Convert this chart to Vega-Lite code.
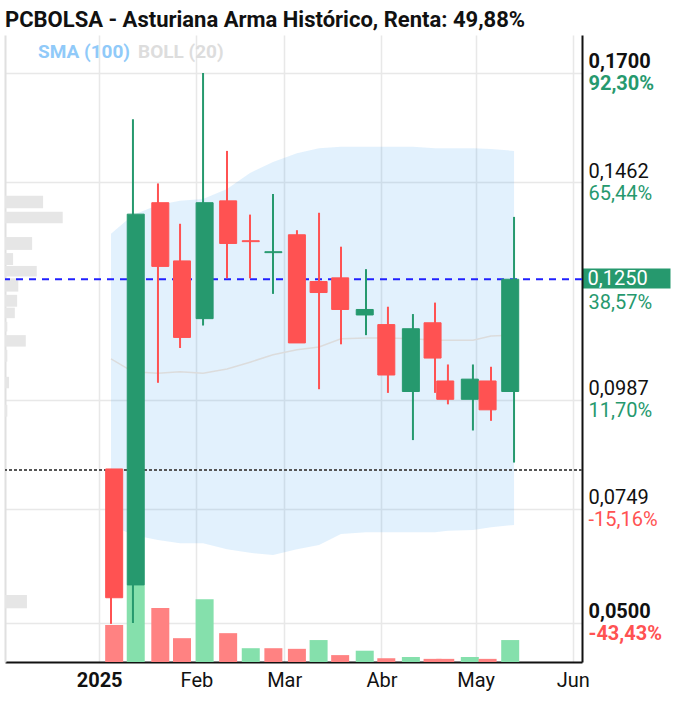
{
  "$schema": "https://vega.github.io/schema/vega-lite/v6.json",
  "width": 577,
  "height": 627,
  "autosize": {"type": "none"},
  "padding": {"left": 5, "top": 35, "right": 99, "bottom": 39},
  "background": "white",
  "config": {"font": "Roboto", "view": {"stroke": null}},
  "title": {
    "text": "PCBOLSA - Asturiana Arma Histórico, Renta: 49,88%",
    "anchor": "start",
    "frame": "group",
    "fontSize": 22,
    "fontWeight": "bold",
    "color": "#111111",
    "offset": 3
  },
  "datasets": {
    "ohlc": [
      {"d":"2025-01-05T19:00","o":0.0836,"h":0.0836,"l":0.0498,"c":0.0555,"v":59,"chg":"down","bu":0.1349,"bm":0.1076,"bl":0.0714},
      {"d":"2025-01-12T16:00","o":0.0583,"h":0.1599,"l":0.0500,"c":0.1392,"v":123,"chg":"up","bu":0.1390,"bm":0.1048,"bl":0.0692},
      {"d":"2025-01-20T12:00","o":0.1417,"h":0.1459,"l":0.1024,"c":0.1278,"v":86,"chg":"down","bu":0.1412,"bm":0.1045,"bl":0.0681},
      {"d":"2025-01-27T10:00","o":0.1290,"h":0.1371,"l":0.1100,"c":0.1123,"v":38,"chg":"down","bu":0.1421,"bm":0.1048,"bl":0.0674},
      {"d":"2025-02-03T15:00","o":0.1164,"h":0.1700,"l":0.1149,"c":0.1417,"v":100,"chg":"up","bu":0.1425,"bm":0.1045,"bl":0.0674},
      {"d":"2025-02-11T03:00","o":0.1421,"h":0.1530,"l":0.1252,"c":0.1328,"v":46,"chg":"down","bu":0.1447,"bm":0.1054,"bl":0.0661},
      {"d":"2025-02-18T08:00","o":0.1334,"h":0.1391,"l":0.1252,"c":0.1332,"v":22,"chg":"up","bu":0.1482,"bm":0.1069,"bl":0.0653},
      {"d":"2025-02-25T13:00","o":0.1308,"h":0.1436,"l":0.1218,"c":0.1310,"v":22,"chg":"down","bu":0.1506,"bm":0.1085,"bl":0.0648},
      {"d":"2025-03-05T01:00","o":0.1347,"h":0.1357,"l":0.1111,"c":0.1111,"v":21,"chg":"down","bu":0.1525,"bm":0.1096,"bl":0.0661},
      {"d":"2025-03-11T23:00","o":0.1245,"h":0.1395,"l":0.1010,"c":0.1221,"v":35,"chg":"up","bu":0.1536,"bm":0.1102,"bl":0.0670},
      {"d":"2025-03-18T20:00","o":0.1253,"h":0.1321,"l":0.1108,"c":0.1184,"v":11,"chg":"down","bu":0.1539,"bm":0.1120,"bl":0.0694},
      {"d":"2025-03-26T16:00","o":0.1172,"h":0.1272,"l":0.1128,"c":0.1184,"v":18,"chg":"up","bu":0.1539,"bm":0.1122,"bl":0.0698},
      {"d":"2025-04-02T13:00","o":0.1151,"h":0.1190,"l":0.1002,"c":0.1041,"v":6,"chg":"down","bu":0.1539,"bm":0.1122,"bl":0.0698},
      {"d":"2025-04-10T09:00","o":0.1005,"h":0.1174,"l":0.0899,"c":0.1142,"v":8,"chg":"up","bu":0.1539,"bm":0.1120,"bl":0.0698},
      {"d":"2025-04-17T07:00","o":0.1155,"h":0.1199,"l":0.1002,"c":0.1078,"v":5,"chg":"down","bu":0.1536,"bm":0.1117,"bl":0.0698},
      {"d":"2025-04-21T08:00","o":0.1028,"h":0.1064,"l":0.0977,"c":0.0988,"v":5,"chg":"down","bu":0.1536,"bm":0.1117,"bl":0.0701},
      {"d":"2025-04-29T04:00","o":0.0988,"h":0.1064,"l":0.0920,"c":0.1032,"v":8,"chg":"up","bu":0.1536,"bm":0.1117,"bl":0.0703},
      {"d":"2025-05-04T20:00","o":0.1028,"h":0.1059,"l":0.0941,"c":0.0965,"v":5,"chg":"down","bu":0.1534,"bm":0.1126,"bl":0.0709},
      {"d":"2025-05-12T01:00","o":0.1005,"h":0.1386,"l":0.0850,"c":0.1250,"v":35,"chg":"up","bu":0.1530,"bm":0.1128,"bl":0.0714}
    ],
    "profile": [
      {"lo":0.1405,"hi":0.1432,"pv":66},
      {"lo":0.1372,"hi":0.1397,"pv":100},
      {"lo":0.1314,"hi":0.1342,"pv":47},
      {"lo":0.1281,"hi":0.1307,"pv":14},
      {"lo":0.1256,"hi":0.1279,"pv":55},
      {"lo":0.1223,"hi":0.1252,"pv":23},
      {"lo":0.1190,"hi":0.1216,"pv":21},
      {"lo":0.1165,"hi":0.1188,"pv":17},
      {"lo":0.1136,"hi":0.1157,"pv":4},
      {"lo":0.1103,"hi":0.1128,"pv":36},
      {"lo":0.1070,"hi":0.1096,"pv":4},
      {"lo":0.1012,"hi":0.1037,"pv":7},
      {"lo":0.0950,"hi":0.0976,"pv":4},
      {"lo":0.0532,"hi":0.0561,"pv":38}
    ],
    "refs": [
      {"level": 0.125, "kind": "last"},
      {"level": 0.0834, "kind": "cost"}
    ]
  },
  "layer": [
    {
      "data": {"name": "profile"},
      "mark": {"type": "rect", "color": "#e6e6e6"},
      "encoding": {
        "x": {"field": "pv", "type": "quantitative", "scale": {"domain": [0, 1000]}, "axis": null},
        "x2": {"datum": 0},
        "y": {"field": "hi", "type": "quantitative", "scale": {"domain": [0.04148, 0.17829], "nice": false, "zero": false},
              "axis": {"orient": "left", "title": null, "labels": false, "ticks": false, "grid": false, "domain": true, "domainColor": "#e0e0e0", "domainWidth": 2}},
        "y2": {"field": "lo"}
      }
    },
    {
      "data": {"name": "ohlc"},
      "mark": {"type": "bar", "size": 18},
      "encoding": {
        "x": {"field": "d", "type": "temporal", "scale": {"domain": [{"year": 2024, "month": 12, "date": 3, "hours": 14}, {"year": 2025, "month": 6, "date": 2, "hours": 8}]}, "axis": null},
        "y": {"field": "v", "type": "quantitative", "scale": {"domain": [0, 1000]}, "axis": null},
        "color": {"condition": {"test": "datum.chg == 'up'", "value": "#85e0ac"}, "value": "#ff8282"}
      }
    },
    {
      "data": {"name": "ohlc"},
      "mark": {"type": "area", "color": "#2196f3", "opacity": 0.13},
      "encoding": {
        "x": {"field": "d", "type": "temporal", "scale": {"domain": [{"year": 2024, "month": 12, "date": 3, "hours": 14}, {"year": 2025, "month": 6, "date": 2, "hours": 8}]}, "axis": null},
        "y": {"field": "bu", "type": "quantitative", "scale": {"domain": [0.04148, 0.17829], "nice": false, "zero": false}, "axis": null},
        "y2": {"field": "bl"}
      }
    },
    {
      "data": {"name": "ohlc"},
      "mark": {"type": "line", "strokeWidth": 1.5},
      "encoding": {
        "x": {"field": "d", "type": "temporal", "scale": {"domain": [{"year": 2024, "month": 12, "date": 3, "hours": 14}, {"year": 2025, "month": 6, "date": 2, "hours": 8}]}, "axis": null},
        "y": {"field": "bm", "type": "quantitative", "scale": {"domain": [0.04148, 0.17829], "nice": false, "zero": false}, "axis": null},
        "color": {
          "datum": "BOLL (20)",
          "type": "nominal",
          "scale": {"domain": ["SMA (100)", "BOLL (20)"], "range": ["#90caf9", "#dcdcdc"]},
          "legend": {
            "orient": "none",
            "legendX": 32,
            "legendY": 7,
            "direction": "horizontal",
            "title": null,
            "symbolSize": 0,
            "symbolOpacity": 0,
            "symbolStrokeWidth": 0,
            "labelFontSize": 19,
            "labelFontWeight": "bold",
            "labelOffset": -18,
            "columnPadding": 6,
            "padding": 0,
            "labelColor": {"expr": "datum.label == 'SMA (100)' ? '#90caf9' : '#dddddd'"}
          }
        }
      }
    },
    {
      "data": {"name": "refs"},
      "transform": [{"filter": "datum.kind == 'cost'"}],
      "mark": {"type": "rule", "color": "#555555", "strokeWidth": 2, "strokeDash": [3, 2]},
      "encoding": {
        "y": {"field": "level", "type": "quantitative", "scale": {"domain": [0.04148, 0.17829], "nice": false, "zero": false}, "axis": null}
      }
    },
    {
      "data": {"name": "refs"},
      "transform": [{"filter": "datum.kind == 'last'"}],
      "mark": {"type": "rule", "color": "#2020ff", "strokeWidth": 2, "strokeDash": [7, 6]},
      "encoding": {
        "y": {"field": "level", "type": "quantitative", "scale": {"domain": [0.04148, 0.17829], "nice": false, "zero": false},
          "axis": {"orient": "right", "values": [0.125], "title": null, "grid": false, "domain": false,
                   "ticks": true, "tickSize": 88, "tickWidth": 20, "tickColor": "#26996e", "tickCap": "butt", "tickOffset": -1,
                   "labelPadding": -83, "labelFontSize": 20, "labelColor": "#ffffff", "labelBaseline": "middle", "labelAlign": "left",
                   "labelExpr": "replace(format(datum.value, '.4f'), '.', ',')", "labelOverlap": false, "labelBound": false, "labelFlush": false}}
      }
    },
    {
      "data": {"name": "ohlc"},
      "mark": {"type": "rule", "strokeWidth": 2},
      "encoding": {
        "x": {"field": "d", "type": "temporal", "scale": {"domain": [{"year": 2024, "month": 12, "date": 3, "hours": 14}, {"year": 2025, "month": 6, "date": 2, "hours": 8}]}, "axis": null},
        "y": {"field": "h", "type": "quantitative", "scale": {"domain": [0.04148, 0.17829], "nice": false, "zero": false},
          "axis": {"orient": "right", "values": [0.17, 0.1462, 0.125, 0.0987, 0.0749, 0.05], "title": null, "grid": false, "domain": false,
                   "ticks": false, "tickSize": 0, "labelPadding": 6, "labelFontSize": 20, "labelBaseline": "top", "labelAlign": "left",
                   "labelOffset": {"condition": {"test": "datum.value > 0.12 && datum.value < 0.13", "value": 13}, "value": 1},
                   "labelColor": {"condition": {"test": "datum.value < 0.085", "value": "#ff5252"}, "value": "#26996e"},
                   "labelFontWeight": {"condition": {"test": "datum.value > 0.16 || datum.value < 0.06", "value": "bold"}, "value": "normal"},
                   "labelExpr": "datum.value > 0.16 ? '92,30%' : datum.value > 0.14 ? '65,44%' : datum.value > 0.12 ? '38,57%' : datum.value > 0.09 ? '11,70%' : datum.value > 0.07 ? '-15,16%' : '-43,43%'",
                   "labelOverlap": false, "labelBound": false, "labelFlush": false}},
        "y2": {"field": "l"},
        "color": {"condition": {"test": "datum.c >= datum.o", "value": "#26996e"}, "value": "#ff5252"}
      }
    },
    {
      "data": {"name": "ohlc"},
      "mark": {"type": "bar", "size": 17, "strokeWidth": 1},
      "encoding": {
        "x": {"field": "d", "type": "temporal", "scale": {"domain": [{"year": 2024, "month": 12, "date": 3, "hours": 14}, {"year": 2025, "month": 6, "date": 2, "hours": 8}]},
          "axis": {"orient": "bottom", "title": null,
                   "values": [{"year": 2025, "month": 1, "date": 1}, {"year": 2025, "month": 2, "date": 1}, {"year": 2025, "month": 3, "date": 1}, {"year": 2025, "month": 4, "date": 1}, {"year": 2025, "month": 5, "date": 1}, {"year": 2025, "month": 6, "date": 1}],
                   "grid": true, "gridColor": "#e8e8e8", "gridWidth": 1.5,
                   "domain": true, "domainColor": "#111111", "domainWidth": 2,
                   "ticks": false, "tickSize": 0, "labelPadding": 8, "labelFontSize": 20, "labelColor": "#111111",
                   "labelAlign": "center", "labelBaseline": "top",
                   "labelExpr": "month(datum.value) == 0 ? '' + year(datum.value) : ['Ene','Feb','Mar','Abr','May','Jun','Jul','Ago','Sep','Oct','Nov','Dic'][month(datum.value)]",
                   "labelFontWeight": {"condition": {"test": "month(datum.value) == 0", "value": "bold"}, "value": "normal"},
                   "labelOverlap": false, "labelBound": false, "labelFlush": false}},
        "y": {"field": "o", "type": "quantitative", "scale": {"domain": [0.04148, 0.17829], "nice": false, "zero": false},
          "axis": {"orient": "right", "values": [0.17, 0.1462, 0.0987, 0.0749, 0.05], "title": null,
                   "grid": true, "gridColor": "#e8e8e8", "gridWidth": 1.5,
                   "domain": true, "domainColor": "#111111", "domainWidth": 2,
                   "ticks": false, "tickSize": 0, "labelPadding": 6, "labelFontSize": 20, "labelColor": "#111111",
                   "labelBaseline": "bottom", "labelOffset": -1, "labelAlign": "left",
                   "labelExpr": "replace(format(datum.value, '.4f'), '.', ',')",
                   "labelFontWeight": {"condition": {"test": "datum.value > 0.16 || datum.value < 0.06", "value": "bold"}, "value": "normal"},
                   "labelOverlap": false, "labelBound": false, "labelFlush": false}},
        "y2": {"field": "c"},
        "color": {"condition": {"test": "datum.c >= datum.o", "value": "#26996e"}, "value": "#ff5252"},
        "stroke": {"condition": {"test": "datum.c >= datum.o", "value": "#26996e"}, "value": "#ff5252"}
      }
    }
  ],
  "resolve": {"scale": {"x": "independent", "y": "independent"}, "axis": {"x": "independent", "y": "independent"}}
}
